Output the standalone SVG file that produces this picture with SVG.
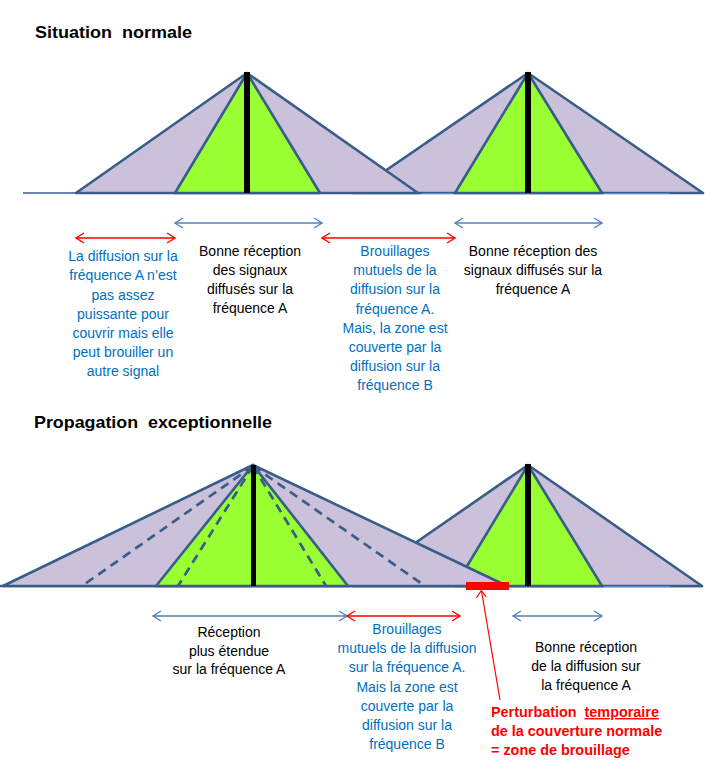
<svg xmlns="http://www.w3.org/2000/svg" width="713" height="781" viewBox="0 0 713 781">
<defs>
<style>
.tri{fill:#CCC1DA;stroke:#385D8A;stroke-width:2.6;stroke-linejoin:round}
.grn{fill:#99FF33;stroke:#385D8A;stroke-width:2.6;stroke-linejoin:round}
.dash{fill:none;stroke:#385D8A;stroke-width:2.7;stroke-dasharray:9 6}
.bar{fill:#000}
.base{stroke:#385D8A;stroke-width:2.6}
.title{font-family:"Liberation Sans",Arial,sans-serif;font-weight:bold;font-size:17px;fill:#000}
.t{font-family:"Liberation Sans",Arial,sans-serif;font-size:14px;text-anchor:middle}
.blk{fill:#000}
.blu{fill:#0070C0}
.red{font-family:"Liberation Sans",Arial,sans-serif;font-weight:bold;font-size:14.4px;fill:#FF0000}
.ab{fill:none;stroke:#4F81BD;stroke-width:1.3;marker-start:url(#hb);marker-end:url(#hb)}
.ar{fill:none;stroke:#FF0000;stroke-width:1.3;marker-start:url(#hr);marker-end:url(#hr)}
</style>
<marker id="hb" viewBox="-1 -6 10 12" markerWidth="10" markerHeight="12" refX="8" refY="0" orient="auto-start-reverse" markerUnits="userSpaceOnUse">
<path d="M0,-5 L8,0 L0,5" fill="none" stroke="#4F81BD" stroke-width="1.3"/>
</marker>
<marker id="hr" viewBox="-1 -6 10 12" markerWidth="10" markerHeight="12" refX="8" refY="0" orient="auto-start-reverse" markerUnits="userSpaceOnUse">
<path d="M0,-5 L8,0 L0,5" fill="none" stroke="#FF0000" stroke-width="1.3"/>
</marker>
</defs>
<rect width="713" height="781" fill="#fff"/>

<text class="title" x="35" y="38" textLength="157" lengthAdjust="spacingAndGlyphs">Situation&#160; normale</text>
<text class="title" x="34" y="428" textLength="238" lengthAdjust="spacingAndGlyphs">Propagation&#160; exceptionnelle</text>

<!-- top diagram -->
<g id="top-baseline">
<line x1="23" y1="193" x2="76" y2="193" stroke="#385D8A" stroke-width="1.5"/>
</g>
<g id="top-emitter-2">
<polygon class="tri" points="353,193 528,73 703,193"/>
<polygon class="grn" points="455,193 528,73 602,193"/>
<rect class="bar" x="525" y="72" width="6" height="121"/>
</g>
<g id="top-emitter-1">
<polygon class="tri" points="76,193 247,73 418,193"/>
<polygon class="grn" points="175,193 247,73 320,193"/>
<rect class="bar" x="244" y="72" width="6" height="121"/>
</g>
<line x1="422" y1="193.5" x2="453" y2="193.5" stroke="#5B8DD0" stroke-width="1"/>
<line x1="604" y1="193.5" x2="670" y2="193.5" stroke="#5B8DD0" stroke-width="1"/>

<!-- bottom diagram -->
<g id="bottom-baseline">
<line class="base" x1="0" y1="586" x2="702" y2="586"/>
</g>
<g id="bottom-emitter-2">
<polygon class="tri" points="353,586 528,465 702,586"/>
<polygon class="grn" points="455,586 528,465 602,586"/>
<rect class="bar" x="525" y="464" width="6" height="122"/>
</g>
<g id="bottom-emitter-1">
<polygon class="tri" points="3,586 253,465 507,586"/>
<polygon class="grn" points="156,586 253,465 348,586"/>
<line class="dash" x1="253" y1="466" x2="82" y2="586"/>
<line class="dash" x1="253" y1="466" x2="425" y2="586"/>
<line class="dash" x1="253" y1="466" x2="178" y2="586"/>
<line class="dash" x1="253" y1="466" x2="326" y2="586"/>
<rect class="bar" x="251" y="465" width="5" height="121"/>
</g>
<line x1="604" y1="586.5" x2="670" y2="586.5" stroke="#5B8DD0" stroke-width="1"/>
<g id="interference-zone">
<rect x="466" y="582" width="43" height="8" fill="#FF0000"/>
</g>

<!-- connectors -->
<g id="connectors">
<path class="ar" d="M76,238 H175"/>
<path class="ab" d="M175,223 H322"/>
<path class="ar" d="M322,238 H455"/>
<path class="ab" d="M455,223 H602"/>
<path class="ab" d="M153,616 H347"/>
<path class="ar" d="M347,616 H460"/>
<path class="ab" d="M513,616 H602"/>
<line x1="500" y1="700" x2="481.5" y2="591" stroke="#FF0000" stroke-width="1.2"/>
<path d="M476.5,598 L481.3,590.5 L486.3,597" fill="none" stroke="#FF0000" stroke-width="1.2"/>
</g>

<!-- labels top -->
<g id="label-1">
<text class="t blu" x="123"><tspan x="123" y="261">La diffusion sur la</tspan><tspan x="123" y="280">fréquence A n’est</tspan><tspan x="123" y="300">pas assez</tspan><tspan x="123" y="319">puissante pour</tspan><tspan x="123" y="338">couvrir mais elle</tspan><tspan x="123" y="357">peut brouiller un</tspan><tspan x="123" y="376">autre signal</tspan></text>
</g>
<g id="label-2">
<text class="t blk" x="250"><tspan x="250" y="256">Bonne réception</tspan><tspan x="250" y="275">des signaux</tspan><tspan x="250" y="294">diffusés sur la</tspan><tspan x="250" y="313">fréquence A</tspan></text>
</g>
<g id="label-3">
<text class="t blu" x="395"><tspan x="395" y="256">Brouillages</tspan><tspan x="395" y="275">mutuels de la</tspan><tspan x="395" y="294">diffusion sur la</tspan><tspan x="395" y="314">fréquence A.</tspan><tspan x="395" y="333">Mais, la zone est</tspan><tspan x="395" y="352">couverte par la</tspan><tspan x="395" y="371">diffusion sur la</tspan><tspan x="395" y="390">fréquence B</tspan></text>
</g>
<g id="label-4">
<text class="t blk" x="533"><tspan x="533" y="256">Bonne réception des</tspan><tspan x="533" y="275">signaux diffusés sur la</tspan><tspan x="533" y="294">fréquence A</tspan></text>
</g>

<!-- labels bottom -->
<g id="label-5">
<text class="t blk" x="229"><tspan x="229" y="637">Réception</tspan><tspan x="229" y="656">plus étendue</tspan><tspan x="229" y="674">sur la fréquence A</tspan></text>
</g>
<g id="label-6">
<text class="t blu" x="407"><tspan x="407" y="634">Brouillages</tspan><tspan x="407" y="653">mutuels de la diffusion</tspan><tspan x="407" y="672">sur la fréquence A.</tspan><tspan x="407" y="692">Mais la zone est</tspan><tspan x="407" y="711">couverte par la</tspan><tspan x="407" y="730">diffusion sur la</tspan><tspan x="407" y="749">fréquence B</tspan></text>
</g>
<g id="label-7">
<text class="t blk" x="586"><tspan x="586" y="652">Bonne réception</tspan><tspan x="586" y="671">de la diffusion sur</tspan><tspan x="586" y="690">la fréquence A</tspan></text>
</g>
<g id="label-8">
<text class="red" x="491" y="717">Perturbation&#160; <tspan text-decoration="underline">temporaire</tspan></text>
<text class="red" x="491" y="736">de la couverture normale</text>
<text class="red" x="491" y="755">= zone de brouillage</text>
</g>
</svg>
